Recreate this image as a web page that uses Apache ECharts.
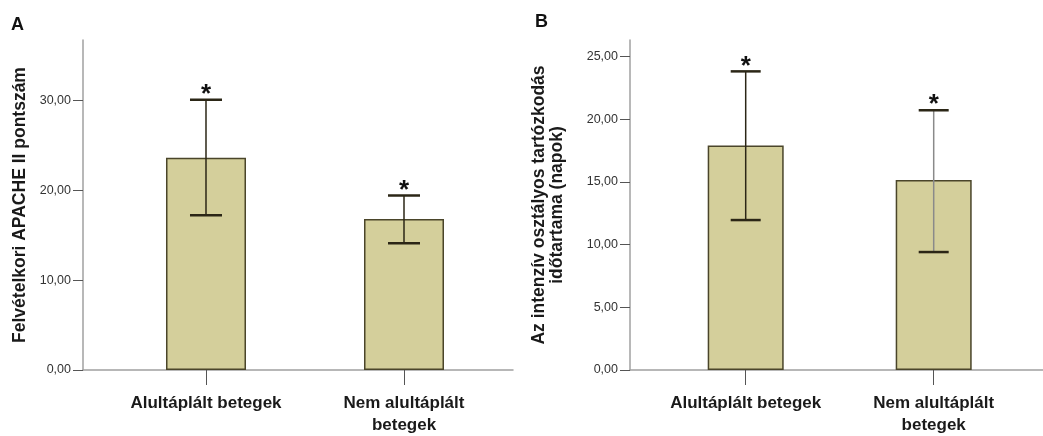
<!DOCTYPE html>
<html><head><meta charset="utf-8">
<script src="https://cdn.jsdelivr.net/npm/echarts@6/dist/echarts.min.js"></script>
<style>html,body{margin:0;padding:0;background:#fff}#c{width:1043px;height:436px}</style>
</head><body><div id="c"></div>
<script>
// ---- data ----
const categories = ['Alultáplált betegek', 'Nem alultáplált\nbetegek'];
const apacheMean = [23.6, 16.8];
const apacheLow = [17.2, 14.1];
const apacheHigh = [30.05, 19.4];
const icuMean = [17.9, 15.15];
const icuLow = [11.95, 9.4];
const icuHigh = [23.8, 20.7];
const apacheTicks = [0, 10, 20, 30];
const icuTicks = [0, 5, 10, 15, 20, 25];
const panelLabels = ['A', 'B'];
const yNames = ['Felvételkori APACHE II pontszám', 'Az intenzív osztályos tartózkodás\nidőtartama (napok)'];
const significance = '*';

// ---- styles ----
const FONT = 'Liberation Sans, Arial, sans-serif';
const BAR_FILL = '#d4cf9b';
const BAR_EDGE = '#4a452a';
const AXIS_GRAY = '#a0a0a0';
const TXT = '#1a1a1a';

const fmt = v => v.toFixed(2).replace('.', ',');
const catIdx = categories.map((c, i) => i);

function xAxisFor(gi, min, max) {
  return {
    type: 'value', gridIndex: gi, min: min, max: max,
    axisLine: { show: true, onZero: true, lineStyle: { color: AXIS_GRAY, width: 1.5 } },
    axisTick: { show: true, customValues: catIdx, length: 15, lineStyle: { color: '#555', width: 1 } },
    axisLabel: { customValues: catIdx, formatter: v => categories[Math.round(v)], fontFamily: FONT,
      fontSize: 17, fontWeight: 'bold', color: TXT, margin: 22, lineHeight: 22 },
    splitLine: { show: false }
  };
}
function yAxisFor(gi, max, ticks, name, gap) {
  return {
    type: 'value', gridIndex: gi, min: 0, max: max,
    axisLine: { show: true, onZero: false, lineStyle: { color: AXIS_GRAY, width: 1.5 } },
    axisTick: { show: true, customValues: ticks, length: 10, lineStyle: { color: '#555', width: 1 } },
    axisLabel: { customValues: ticks, formatter: fmt, fontFamily: FONT, fontSize: 12.5, color: '#333', margin: 12 },
    splitLine: { show: false },
    name: name, nameLocation: 'middle', nameGap: gap,
    nameTextStyle: { fontFamily: FONT, fontSize: 17.5, fontWeight: 'bold', color: TXT, lineHeight: 18 }
  };
}
function barSeries(gi, means, w) {
  return {
    type: 'bar', xAxisIndex: gi, yAxisIndex: gi, barWidth: w,
    data: means.map((m, i) => [i, m]),
    itemStyle: { color: BAR_FILL, borderColor: BAR_EDGE, borderWidth: 1.5 },
    silent: true, z: 2
  };
}
function errSeries(gi, lows, highs, halfCap, stemColors) {
  return {
    type: 'custom', xAxisIndex: gi, yAxisIndex: gi, z: 5, silent: true,
    data: lows.map((l, i) => [i, l, highs[i]]),
    renderItem: function (params, api) {
      const x = api.value(0);
      const lo = api.coord([x, api.value(1)]);
      const hi = api.coord([x, api.value(2)]);
      const stem = stemColors[params.dataIndex];
      return {
        type: 'group',
        children: [
          { type: 'line', shape: { x1: hi[0], y1: hi[1], x2: lo[0], y2: lo[1] }, style: { stroke: stem, lineWidth: 1.5 } },
          { type: 'line', shape: { x1: hi[0] - halfCap, y1: hi[1], x2: hi[0] + halfCap, y2: hi[1] }, style: { stroke: '#2b2616', lineWidth: 2.5 } },
          { type: 'line', shape: { x1: lo[0] - halfCap, y1: lo[1], x2: lo[0] + halfCap, y2: lo[1] }, style: { stroke: '#2b2616', lineWidth: 2.5 } },
          { type: 'text', style: { x: hi[0], y: hi[1] - 5, text: significance, fill: '#111', fontSize: 26, fontWeight: 'bold', fontFamily: FONT, align: 'center', verticalAlign: 'middle' } }
        ]
      };
    }
  };
}

const chart = echarts.init(document.getElementById('c'), null, { renderer: 'canvas' });
chart.setOption({
  animation: false,
  backgroundColor: '#fff',
  title: [
    { text: panelLabels[0], left: 11, top: 16, padding: 0, textStyle: { fontFamily: FONT, fontSize: 18, fontWeight: 'bold', color: '#111' } },
    { text: panelLabels[1], left: 535, top: 13, padding: 0, textStyle: { fontFamily: FONT, fontSize: 18, fontWeight: 'bold', color: '#111' } }
  ],
  grid: [
    { left: 83, top: 40, width: 430, height: 332 },
    { left: 630, top: 40, width: 413, height: 332 }
  ],
  xAxis: [xAxisFor(0, -0.6212, 1.5505), xAxisFor(1, -0.6154, 1.5814)],
  yAxis: [yAxisFor(0, 36.7, apacheTicks, yNames[0], 54), yAxisFor(1, 26.3, icuTicks, yNames[1], 64)],
  series: [
    barSeries(0, apacheMean, 80),
    errSeries(0, apacheLow, apacheHigh, 16, ['#2b2616', '#2b2616']),
    barSeries(1, icuMean, 76),
    errSeries(1, icuLow, icuHigh, 15, ['#2b2616', '#8a8a8a'])
  ]
});
</script>
</body></html>
